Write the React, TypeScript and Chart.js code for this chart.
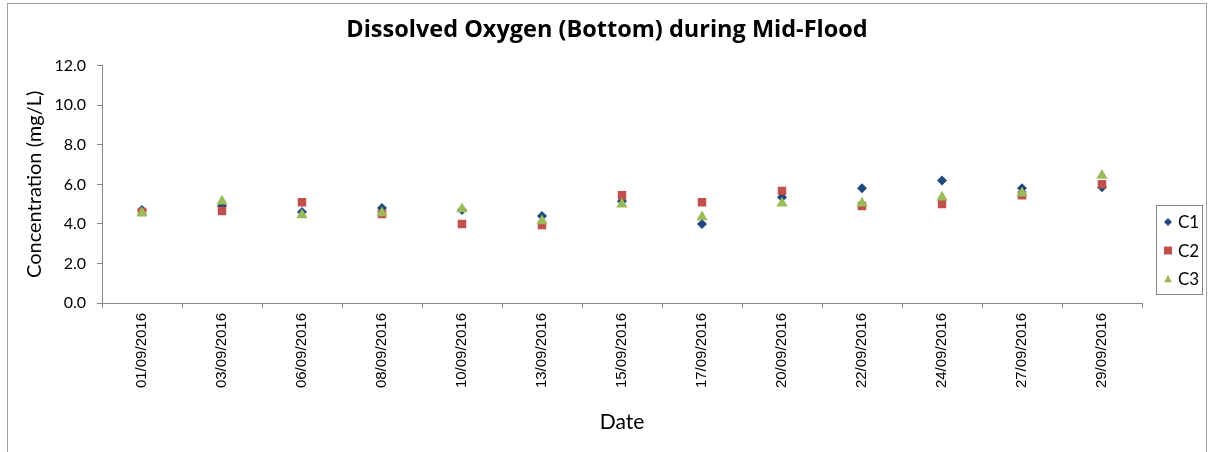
import React, { useEffect, useRef } from 'react';
import { Chart, registerables } from 'chart.js';

Chart.register(...registerables);

const dates = [
  '01/09/2016', '03/09/2016', '06/09/2016', '08/09/2016', '10/09/2016',
  '13/09/2016', '15/09/2016', '17/09/2016', '20/09/2016', '22/09/2016',
  '24/09/2016', '27/09/2016', '29/09/2016',
];
const seriesNames = ['C1', 'C2', 'C3'];
const c1Values = [4.7, 4.9, 4.6, 4.8, 4.7, 4.4, 5.15, 4.0, 5.35, 5.8, 6.2, 5.8, 5.85];
const c2Values = [4.6, 4.65, 5.1, 4.5, 4.0, 3.95, 5.45, 5.1, 5.67, 4.9, 5.0, 5.45, 6.0];
const c3Values = [4.55, 5.15, 4.45, 4.55, 4.75, 4.15, 5.0, 4.35, 5.05, 5.05, 5.35, 5.55, 6.45];
const yTicks = [0, 2, 4, 6, 8, 10, 12];

const titleText = 'Dissolved Oxygen (Bottom) during Mid-Flood';
const yTitle = 'Concentration (mg/L)';
const xTitle = 'Date';

const COLORS = ['#1F497D', '#C0504D', '#9BBB59'];
const STYLES = ['rectRot', 'rect', 'triangle'];
const AXIS = '#868686';
const FONT = 'Lato, "Open Sans", sans-serif';

function drawMarker(ctx: CanvasRenderingContext2D, style: string, x: number, y: number, r: number) {
  ctx.beginPath();
  if (style === 'rectRot') {
    ctx.moveTo(x, y - r);
    ctx.lineTo(x + r, y);
    ctx.lineTo(x, y + r);
    ctx.lineTo(x - r, y);
  } else if (style === 'rect') {
    ctx.rect(x - r, y - r, 2 * r, 2 * r);
  } else {
    ctx.moveTo(x, y - r);
    ctx.lineTo(x + r, y + r * 0.8);
    ctx.lineTo(x - r, y + r * 0.8);
  }
  ctx.closePath();
  ctx.fill();
}

const boxLegend = {
  id: 'boxLegend',
  afterDraw(chart: any) {
    const ctx = chart.ctx as CanvasRenderingContext2D;
    const left = chart.chartArea.right + 14;
    const top = 201;
    const w = 46;
    const h = 89;
    ctx.save();
    ctx.strokeStyle = AXIS;
    ctx.lineWidth = 1;
    ctx.strokeRect(Math.round(left) + 0.5, top + 0.5, w, h);
    ctx.font = `17px ${FONT}`;
    ctx.textBaseline = 'middle';
    ctx.textAlign = 'left';
    chart.data.datasets.forEach((ds: any, i: number) => {
      const cy = top + 17 + i * 28.5;
      ctx.fillStyle = COLORS[i];
      drawMarker(ctx, STYLES[i], left + 12, cy, 4);
      ctx.fillStyle = '#000';
      ctx.fillText(ds.label, left + 22, cy + 1);
    });
    ctx.restore();
  },
};

export default function App() {
  const ref = useRef<HTMLCanvasElement>(null);

  useEffect(() => {
    if (!ref.current) return;
    const values = [c1Values, c2Values, c3Values];
    const radii = [5, 6, 6.5];
    const chart = new Chart(ref.current, {
      type: 'line',
      data: {
        labels: dates,
        datasets: seriesNames.map((name, i) => ({
          label: name,
          data: values[i],
          showLine: false,
          pointStyle: STYLES[i] as any,
          pointRadius: radii[i],
          pointHoverRadius: radii[i],
          pointBorderWidth: 0,
          backgroundColor: COLORS[i],
          borderColor: COLORS[i],
          order: 3 - i,
        })),
      },
      options: {
        animation: false,
        responsive: false,
        maintainAspectRatio: false,
        layout: { padding: 0 },
        plugins: {
          legend: { display: false },
          tooltip: { enabled: false },
          title: {
            display: true,
            text: titleText,
            color: '#000',
            font: { family: '"Open Sans", Lato, sans-serif', size: 23.5, weight: 'bold', lineHeight: 1.2 },
            padding: { top: 12, bottom: 21.5 },
          },
        },
        scales: {
          x: {
            type: 'category',
            offset: true,
            grid: {
              offset: true,
              drawOnChartArea: false,
              drawTicks: true,
              tickLength: 5,
              color: AXIS,
            },
            border: { display: true, color: AXIS },
            ticks: {
              minRotation: 90,
              maxRotation: 90,
              autoSkip: false,
              padding: 5,
              color: '#000',
              font: { family: '"Liberation Sans", Arial, sans-serif', size: 15 },
            },
            title: {
              display: true,
              text: xTitle,
              color: '#000',
              font: { family: FONT, size: 21, lineHeight: 1.2 },
              padding: { top: 0, bottom: 17 },
            },
            afterFit: (s: any) => { s.height = 149; },
          },
          y: {
            type: 'linear',
            position: 'left',
            min: 0,
            max: 12,
            afterBuildTicks: (s: any) => { s.ticks = yTicks.map((v) => ({ value: v })); },
            grid: {
              drawOnChartArea: false,
              drawTicks: true,
              tickLength: 5,
              color: AXIS,
            },
            border: { display: true, color: AXIS },
            ticks: {
              padding: 11,
              color: '#000',
              font: { family: FONT, size: 16 },
              callback: (v: any) => Number(v).toFixed(1),
            },
            title: {
              display: true,
              text: yTitle,
              color: '#000',
              font: { family: FONT, size: 20, lineHeight: 1.2 },
              padding: { top: 15, bottom: 0 },
            },
            afterFit: (s: any) => { s.width = 94; },
          },
          yRight: {
            type: 'linear',
            position: 'right',
            display: true,
            grid: { display: false, drawTicks: false },
            border: { display: false },
            ticks: { display: false },
            afterFit: (s: any) => { s.width = 64; },
          },
        },
      },
      plugins: [boxLegend],
    });
    return () => chart.destroy();
  }, []);

  return (
    <div
      style={{
        position: 'fixed',
        left: 7,
        top: 3,
        width: 1198,
        height: 460,
        borderTop: '1px solid #A0A0A0',
        borderLeft: '1px solid #A0A0A0',
        borderRight: '1px solid #A0A0A0',
        background: '#fff',
      }}
    >
      <canvas ref={ref} width={1198} height={448} style={{ display: 'block' }} />
    </div>
  );
}
